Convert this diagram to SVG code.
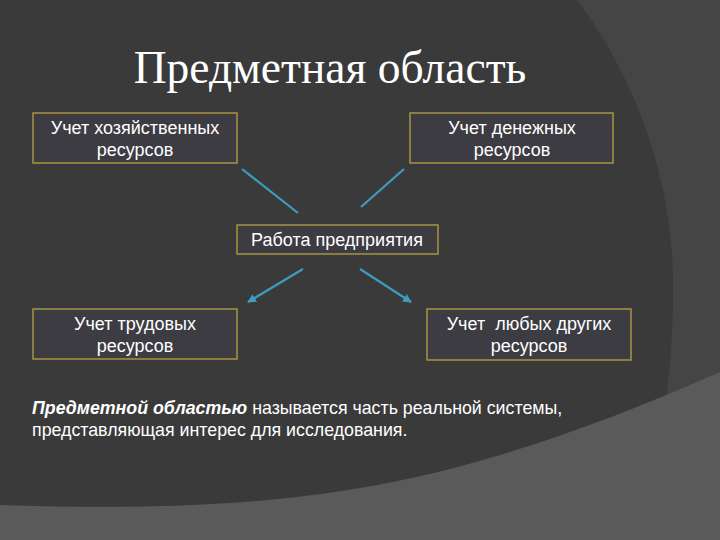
<svg xmlns="http://www.w3.org/2000/svg" width="720" height="540" viewBox="0 0 720 540">
  <defs>
    <style>
      .box { fill: #3c3c42; stroke: #a89442; stroke-width: 1.5; }
      .lbl { font-family: "Liberation Sans", Arial, sans-serif; font-size: 18px; fill: #ffffff; text-anchor: middle; }
      .conn { stroke: #3f9cc0; stroke-width: 2.2; fill: none; }
      .body { font-family: "Liberation Sans", Arial, sans-serif; font-size: 17.8px; fill: #ffffff; }
      .title { font-family: "Liberation Serif", "Times New Roman", serif; font-size: 45.5px; fill: #ffffff; text-anchor: middle; }
    </style>
    <marker id="ah" viewBox="0 0 10 10" refX="9" refY="5" markerWidth="4" markerHeight="4" orient="auto" markerUnits="strokeWidth">
      <path d="M0,0 L10,5 L0,10 Z" fill="#3f9cc0"/>
    </marker>
  </defs>

  <!-- background -->
  <rect x="0" y="0" width="720" height="540" fill="#454545"/>
  <path d="M0,0 H577 C630,70 672,170 673,280 C674,380 660,440 640,540 H0 Z" fill="#3a3a3a"/>
  <path d="M0,505 C150,510 260,505 360,488 C480,468 600,425 720,372 V540 H0 Z" fill="#5a5a5a"/>

  <text class="title" x="330" y="83">Предметная область</text>

  <g id="connectors">
    <line class="conn" x1="242" y1="169" x2="298" y2="213"/>
    <line class="conn" x1="404" y1="169" x2="361" y2="207"/>
    <line class="conn" x1="303" y1="269" x2="248" y2="302" marker-end="url(#ah)"/>
    <line class="conn" x1="360" y1="269" x2="411" y2="302" marker-end="url(#ah)"/>
  </g>

  <g id="node-hoz">
    <rect class="box" x="33" y="113" width="204" height="50"/>
    <text class="lbl" x="135" y="134">Учет хозяйственных</text>
    <text class="lbl" x="135" y="156">ресурсов</text>
  </g>

  <g id="node-den">
    <rect class="box" x="410" y="113" width="203" height="50"/>
    <text class="lbl" x="512" y="134">Учет денежных</text>
    <text class="lbl" x="512" y="156">ресурсов</text>
  </g>

  <g id="node-rab">
    <rect class="box" x="237" y="225" width="201" height="29"/>
    <text class="lbl" x="337" y="246">Работа предприятия</text>
  </g>

  <g id="node-trud">
    <rect class="box" x="33" y="309" width="204" height="50"/>
    <text class="lbl" x="135" y="330">Учет трудовых</text>
    <text class="lbl" x="135" y="352">ресурсов</text>
  </g>

  <g id="node-other">
    <rect class="box" x="427" y="309" width="204" height="51"/>
    <text class="lbl" x="529" y="330" xml:space="preserve">Учет  любых других</text>
    <text class="lbl" x="529" y="352">ресурсов</text>
  </g>

  <text class="body" x="32" y="414"><tspan font-weight="bold" font-style="italic">Предметной областью</tspan> называется часть реальной системы,</text>
  <text class="body" x="32" y="436">представляющая интерес для исследования.</text>
</svg>
